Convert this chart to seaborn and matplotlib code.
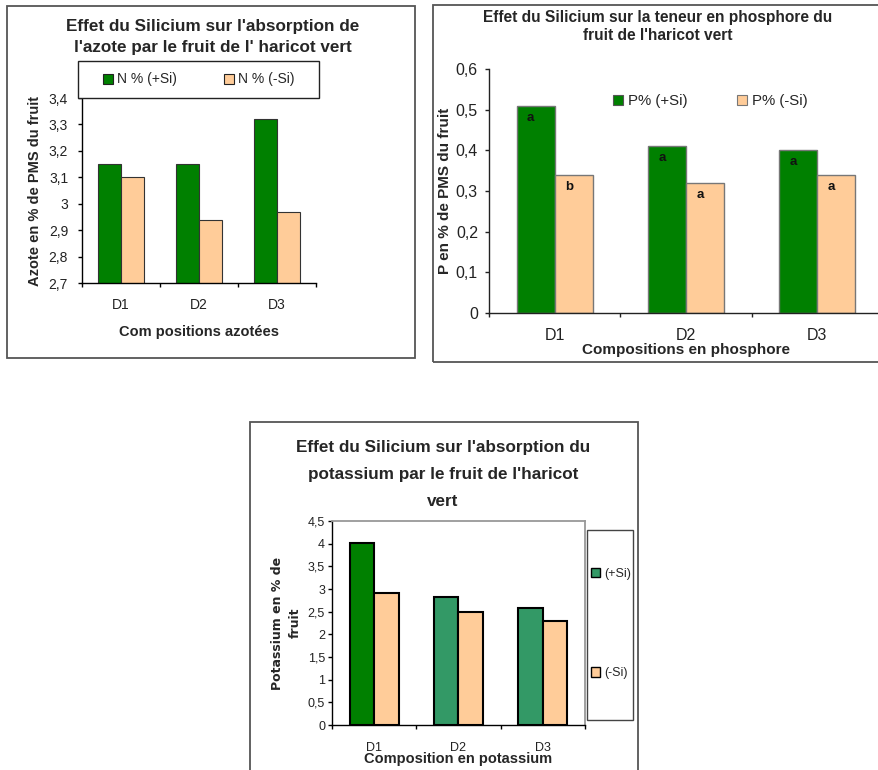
import matplotlib
matplotlib.use("Agg")
import matplotlib.pyplot as plt
from matplotlib.patches import Rectangle, Patch
import seaborn as sns
import pandas as pd

# ---------------- data ----------------
categories = ["D1", "D2", "D3"]

n_title = "Effet du Silicium sur l'absorption de\nl'azote par le fruit de l' haricot vert"
n_series = ["N % (+Si)", "N % (-Si)"]
n_plus = [3.15, 3.15, 3.32]
n_minus = [3.10, 2.94, 2.97]
n_yticks = [2.7, 2.8, 2.9, 3.0, 3.1, 3.2, 3.3, 3.4]
n_xlabel = "Com positions azotées"
n_ylabel = "Azote en % de PMS du fruit"

p_title = "Effet du Silicium sur la teneur en phosphore du\nfruit de l'haricot vert"
p_series = ["P% (+Si)", "P% (-Si)"]
p_plus = [0.51, 0.41, 0.40]
p_minus = [0.34, 0.32, 0.34]
p_letters_plus = ["a", "a", "a"]
p_letters_minus = ["b", "a", "a"]
p_yticks = [0, 0.1, 0.2, 0.3, 0.4, 0.5, 0.6]
p_xlabel = "Compositions en phosphore"
p_ylabel = "P en % de PMS du fruit"

k_title = "Effet du Silicium sur l'absorption du\npotassium par le fruit de l'haricot\nvert"
k_series = ["(+Si)", "(-Si)"]
k_plus = [4.02, 2.82, 2.58]
k_minus = [2.91, 2.50, 2.30]
k_yticks = [0, 0.5, 1, 1.5, 2, 2.5, 3, 3.5, 4, 4.5]
k_xlabel = "Composition en potassium"
k_ylabel = "Potassium en % de\nfruit"

# colours
DARK_GREEN = "#008000"
SEA_GREEN = "#339966"
PEACH = "#FFCC99"

W, H = 879, 770
sns.set_theme(style="white")
plt.rcParams["font.family"] = ["Liberation Sans", "DejaVu Sans"]

fig = plt.figure(figsize=(W / 100, H / 100), dpi=100)
fig.patch.set_facecolor("white")


def fx(x):
    return x / W


def fy(y):
    return 1 - y / H


def add_ax(x0, y0, x1, y1):
    return fig.add_axes([fx(x0), fy(y1), (x1 - x0) / W, (y1 - y0) / H])


def rect(x0, y0, x1, y1, ec="#555555", lw=1.3, fc="none"):
    fig.patches.append(Rectangle((fx(x0), fy(y1)), (x1 - x0) / W, (y1 - y0) / H,
                                 transform=fig.transFigure, fill=(fc != "none"),
                                 facecolor=fc, edgecolor=ec, linewidth=lw, zorder=0))


def fmt(v):
    s = f"{v:.1f}".replace(".", ",")
    if s.endswith(",0"):
        s = s[:-2]
    return s


def long_df(plus, minus, series):
    return pd.DataFrame({
        "comp": categories * 2,
        "val": list(plus) + list(minus),
        "trt": [series[0]] * 3 + [series[1]] * 3,
    })


def style_axes(ax, yticks, tick_fs, spine_color="black", ypad=3, xpad=8):
    ax.set_xlim(-0.5, 2.5)
    ax.set_ylim(yticks[0], yticks[-1])
    ax.set_yticks(yticks)
    ax.set_yticklabels([fmt(v) for v in yticks], fontsize=tick_fs, color="#222222")
    ax.set_xticks([-0.5, 0.5, 1.5, 2.5])
    ax.set_xticklabels([])
    ax.set_xticks([0, 1, 2], minor=True)
    ax.set_xticklabels(categories, minor=True, fontsize=tick_fs, color="#222222")
    ax.tick_params(axis="x", which="major", direction="out", length=3, width=1,
                   color=spine_color, bottom=True)
    ax.tick_params(axis="x", which="minor", length=0, pad=xpad)
    ax.tick_params(axis="y", direction="out", length=3, width=1, color=spine_color,
                   left=True, pad=ypad)
    for s in ["top", "right"]:
        ax.spines[s].set_visible(False)
    for s in ["left", "bottom"]:
        ax.spines[s].set_color(spine_color)
        ax.spines[s].set_linewidth(1.0)
    ax.set_xlabel("")
    ax.set_ylabel("")
    ax.set_facecolor("white")
    ax.grid(False)


# ================= Panel 1: azote =================
rect(7, 6, 415, 358)
ax1 = add_ax(82, 98, 316, 283)
sns.barplot(data=long_df(n_plus, n_minus, n_series), x="comp", y="val", hue="trt",
            palette=[DARK_GREEN, PEACH], saturation=1, width=0.58, gap=0,
            edgecolor="#333333", linewidth=0.8, legend=False, ax=ax1)
style_axes(ax1, n_yticks, 10, ypad=7, xpad=11)
ax1.set_xlabel(n_xlabel, fontsize=10.5, fontweight="bold", labelpad=9.5)
ax1.set_ylabel(n_ylabel, fontsize=10.5, fontweight="bold")
ax1.yaxis.set_label_coords((42 - 82) / (316 - 82), 0.5)
fig.text(fx(213), fy(37), n_title, ha="center", va="center", fontsize=12.3,
         fontweight="bold", linespacing=1.55)
rect(78, 61, 319, 98, ec="#222222", lw=1.0, fc="white")
h1 = [Patch(facecolor=DARK_GREEN, edgecolor="#222222", linewidth=0.8),
      Patch(facecolor=PEACH, edgecolor="#222222", linewidth=0.8)]
fig.legend(h1, n_series, loc="center", bbox_to_anchor=(fx(199), fy(79.5)), ncol=2,
           frameon=False, fontsize=10, handlelength=0.7, handleheight=0.7,
           handletextpad=0.3, columnspacing=3.4)

# ================= Panel 2: phosphore =================
rect(433, 5, 882, 362)
ax2 = add_ax(489, 69, 883, 313)
sns.barplot(data=long_df(p_plus, p_minus, p_series), x="comp", y="val", hue="trt",
            palette=[DARK_GREEN, PEACH], saturation=1, width=0.58, gap=0,
            edgecolor="#777777", linewidth=1.0, legend=False, ax=ax2)
style_axes(ax2, p_yticks, 11.5, spine_color="#222222", ypad=5, xpad=11)
ax2.set_xlabel(p_xlabel, fontsize=11, fontweight="bold", labelpad=0)
ax2.set_ylabel(p_ylabel, fontsize=11, fontweight="bold")
ax2.yaxis.set_label_coords((452 - 489) / (883 - 489), 0.5)
fig.text(fx(658), fy(26.5), p_title, ha="center", va="center", fontsize=11.2,
         fontweight="bold", linespacing=1.3)
for cont, letters in zip(ax2.containers, [p_letters_plus, p_letters_minus]):
    for bar, letter in zip(cont, letters):
        ax2.annotate(letter, xy=(bar.get_x() + bar.get_width() / 2, bar.get_height()),
                     xytext=(-5, -12), textcoords="offset pixels", ha="center",
                     va="center", fontsize=9.5, fontweight="bold", color="#111111")
h2 = [Patch(facecolor=DARK_GREEN, edgecolor="#555555", linewidth=0.8),
      Patch(facecolor=PEACH, edgecolor="#777777", linewidth=0.8)]
fig.legend(h2, p_series, loc="center", bbox_to_anchor=(fx(710), fy(101)), ncol=2,
           frameon=False, fontsize=10.8, handlelength=0.7, handleheight=0.7,
           handletextpad=0.3, columnspacing=3.3)

# ================= Panel 3: potassium =================
rect(250, 422, 638, 780)
ax3 = add_ax(332, 521, 585, 725)
sns.barplot(data=long_df(k_plus, k_minus, k_series), x="comp", y="val", hue="trt",
            palette=[SEA_GREEN, PEACH], saturation=1, width=0.58, gap=0,
            edgecolor="black", linewidth=1.5, legend=False, ax=ax3)
ax3.containers[0][0].set_facecolor(DARK_GREEN)
style_axes(ax3, k_yticks, 9, ypad=2, xpad=12)
ax3.spines["top"].set_visible(True)
ax3.spines["right"].set_visible(True)
ax3.spines["top"].set_color("#999999")
ax3.spines["right"].set_color("#999999")
ax3.spines["top"].set_linewidth(1.3)
ax3.spines["right"].set_linewidth(1.3)
ax3.set_xlabel(k_xlabel, fontsize=10.5, fontweight="bold", labelpad=-1)
ax3.set_ylabel(k_ylabel, fontsize=9, fontweight="bold", linespacing=1.5,
               family=["DejaVu Sans"])
ax3.yaxis.set_label_coords((302 - 332) / (585 - 332), 0.5)
fig.text(fx(443), fy(474.5), k_title, ha="center", va="center", fontsize=12.3,
         fontweight="bold", linespacing=2.0)
rect(587, 530, 633, 720, ec="#444444", lw=1.0, fc="white")
h3 = [Patch(facecolor=SEA_GREEN, edgecolor="black", linewidth=1.0),
      Patch(facecolor=PEACH, edgecolor="black", linewidth=1.0)]
fig.legend(h3, k_series, loc="center", bbox_to_anchor=(fx(611), fy(623.5)), ncol=1,
           frameon=False, fontsize=9, handlelength=0.7, handleheight=0.8,
           handletextpad=0.3, labelspacing=7.0)

fig.savefig("out.png", dpi=100, facecolor="white")
